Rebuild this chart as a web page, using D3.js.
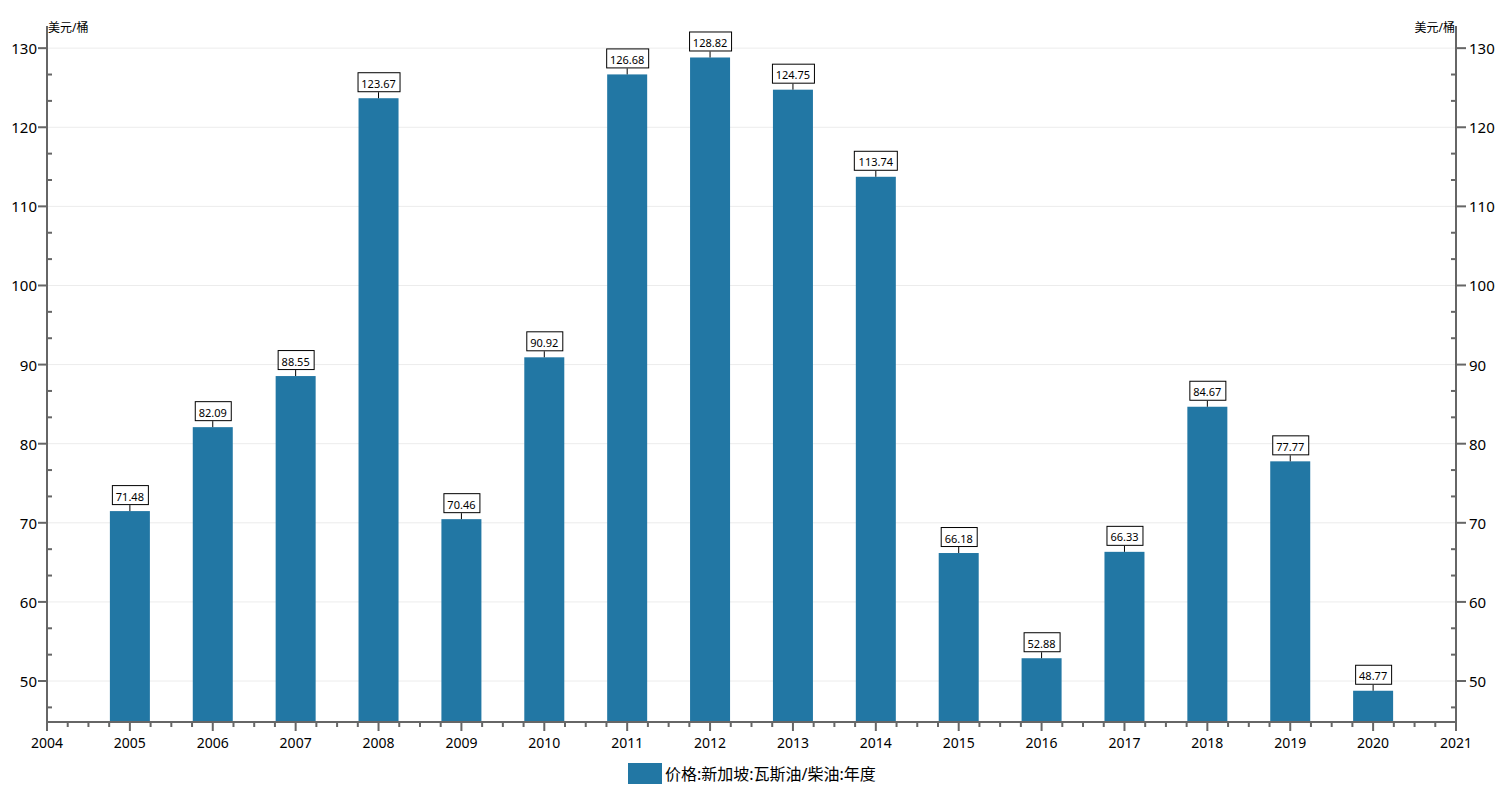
<!DOCTYPE html>
<html lang="zh">
<head>
<meta charset="UTF-8">
<title>价格:新加坡:瓦斯油/柴油:年度</title>
<script src="https://d3js.org/d3.v7.min.js"></script>
<style>
  body { margin: 0; background: #fff; }
  svg { display: block; font-family: "Segoe UI", "Noto Sans", "Noto Sans CJK SC", sans-serif; }
</style>
</head>
<body>
<svg id="chart" width="1499" height="797"></svg>
<script>
  // data
  const years = [2005, 2006, 2007, 2008, 2009, 2010, 2011, 2012, 2013, 2014, 2015, 2016, 2017, 2018, 2019, 2020];
  const prices = [71.48, 82.09, 88.55, 123.67, 70.46, 90.92, 126.68, 128.82, 124.75, 113.74, 66.18, 52.88, 66.33, 84.67, 77.77, 48.77];
  const yTicks = [50, 60, 70, 80, 90, 100, 110, 120, 130];
  const xTicks = d3.range(2004, 2022);
  const unitLabel = "美元/桶";
  const seriesName = "价格:新加坡:瓦斯油/柴油:年度";

  const svg = d3.select("#chart");
  const mLeft = 47, mRight = 1456, mTop = 26, mBottom = 722;
  const barColor = "#2277a4", axisColor = "#666";

  const x = d3.scaleLinear().domain([2004, 2021]).range([mLeft, mRight]);
  const y = d3.scaleLinear().domain([44.82, 132.8]).range([mBottom, mTop]);

  // gridlines
  svg.append("g")
    .selectAll("line")
    .data(yTicks)
    .enter().append("line")
    .attr("x1", mLeft).attr("x2", mRight)
    .attr("y1", d => y(d)).attr("y2", d => y(d))
    .attr("stroke", "#ececec").attr("stroke-width", 1);

  // bars
  const barW = 40;
  svg.append("g")
    .selectAll("rect")
    .data(years)
    .enter().append("rect")
    .attr("x", d => x(d) - barW / 2)
    .attr("width", barW)
    .attr("y", (d, i) => y(prices[i]))
    .attr("height", (d, i) => mBottom - y(prices[i]))
    .attr("fill", barColor);

  // value labels
  const lab = svg.append("g").selectAll("g")
    .data(years)
    .enter().append("g")
    .attr("transform", (d, i) => `translate(${x(d)},${y(prices[i])})`);
  lab.append("line")
    .attr("y1", 0).attr("y2", -6)
    .attr("stroke", "#000").attr("stroke-width", 1);
  lab.append("text")
    .attr("y", -15)
    .attr("text-anchor", "middle")
    .attr("dominant-baseline", "central")
    .style("font-size", "11px")
    .attr("fill", "#000")
    .text((d, i) => prices[i].toFixed(2));
  lab.each(function() {
    const g = d3.select(this);
    const bb = g.select("text").node().getBBox();
    g.insert("rect", "text")
      .attr("x", Math.round(-bb.width / 2 - 4) + 0.5)
      .attr("y", -25.5)
      .attr("width", Math.round(bb.width + 8))
      .attr("height", 19)
      .attr("fill", "#fff")
      .attr("stroke", "#000")
      .attr("stroke-width", 1);
  });

  // minor ticks: two between each pair of majors, also one below 50
  const yMinor = [];
  [40].concat(yTicks).forEach(t => {
    [t + 10 / 3, t + 20 / 3].forEach(v => { if (v > 44.82 && v < 132.8) yMinor.push(v); });
  });
  const xMinor = d3.range(2004, 2021.01, 0.25).filter(v => Math.abs(v - Math.round(v)) > 0.01);

  const axes = svg.append("g").attr("stroke", axisColor).attr("stroke-width", 2);
  // axis lines
  axes.append("line").attr("x1", mLeft).attr("x2", mLeft).attr("y1", mTop).attr("y2", mBottom + 1);
  axes.append("line").attr("x1", mRight).attr("x2", mRight).attr("y1", mTop).attr("y2", mBottom + 1);
  axes.append("line").attr("x1", mLeft - 1).attr("x2", mRight + 1).attr("y1", mBottom).attr("y2", mBottom);

  // y major ticks
  axes.selectAll(".ly").data(yTicks).enter().append("line")
    .attr("x1", mLeft - 9).attr("x2", mLeft).attr("y1", d => y(d)).attr("y2", d => y(d));
  axes.selectAll(".ry").data(yTicks).enter().append("line")
    .attr("x1", mRight).attr("x2", mRight + 10).attr("y1", d => y(d)).attr("y2", d => y(d));
  // y minor ticks (inward)
  axes.selectAll(".lym").data(yMinor).enter().append("line")
    .attr("x1", mLeft).attr("x2", mLeft + 5).attr("y1", d => y(d)).attr("y2", d => y(d));
  axes.selectAll(".rym").data(yMinor).enter().append("line")
    .attr("x1", mRight - 5).attr("x2", mRight).attr("y1", d => y(d)).attr("y2", d => y(d));
  // x ticks
  axes.selectAll(".xt").data(xTicks).enter().append("line")
    .attr("x1", d => x(d)).attr("x2", d => x(d)).attr("y1", mBottom).attr("y2", mBottom + 9);
  axes.selectAll(".xm").data(xMinor).enter().append("line")
    .attr("x1", d => x(d)).attr("x2", d => x(d)).attr("y1", mBottom).attr("y2", mBottom + 5);

  // tick labels
  svg.append("g").selectAll("text").data(yTicks).enter().append("text")
    .attr("x", mLeft - 10).attr("y", d => y(d))
    .attr("text-anchor", "end").attr("dominant-baseline", "central")
    .style("font-size", "15px").attr("fill", "#000")
    .text(d => d);
  svg.append("g").selectAll("text").data(yTicks).enter().append("text")
    .attr("x", mRight + 13).attr("y", d => y(d))
    .attr("text-anchor", "start").attr("dominant-baseline", "central")
    .style("font-size", "15px").attr("fill", "#000")
    .text(d => d);
  svg.append("g").selectAll("text").data(xTicks).enter().append("text")
    .attr("x", d => x(d)).attr("y", 742)
    .attr("text-anchor", "middle").attr("dominant-baseline", "central")
    .style("font-size", "14px").attr("fill", "#000")
    .text(d => d);

  // unit labels
  svg.append("text").attr("x", mLeft + 1).attr("y", 32)
    .style("font-size", "12px").attr("fill", "#000").text(unitLabel);
  svg.append("text").attr("x", mRight - 1).attr("y", 32)
    .attr("text-anchor", "end")
    .style("font-size", "12px").attr("fill", "#000").text(unitLabel);

  // legend
  const legend = svg.append("g");
  legend.append("rect").attr("x", 628).attr("y", 763).attr("width", 34).attr("height", 21).attr("fill", barColor);
  legend.append("text").attr("x", 665).attr("y", 774)
    .attr("dominant-baseline", "central")
    .style("font-size", "16px").attr("fill", "#000")
    .text(seriesName);
</script>
</body>
</html>
